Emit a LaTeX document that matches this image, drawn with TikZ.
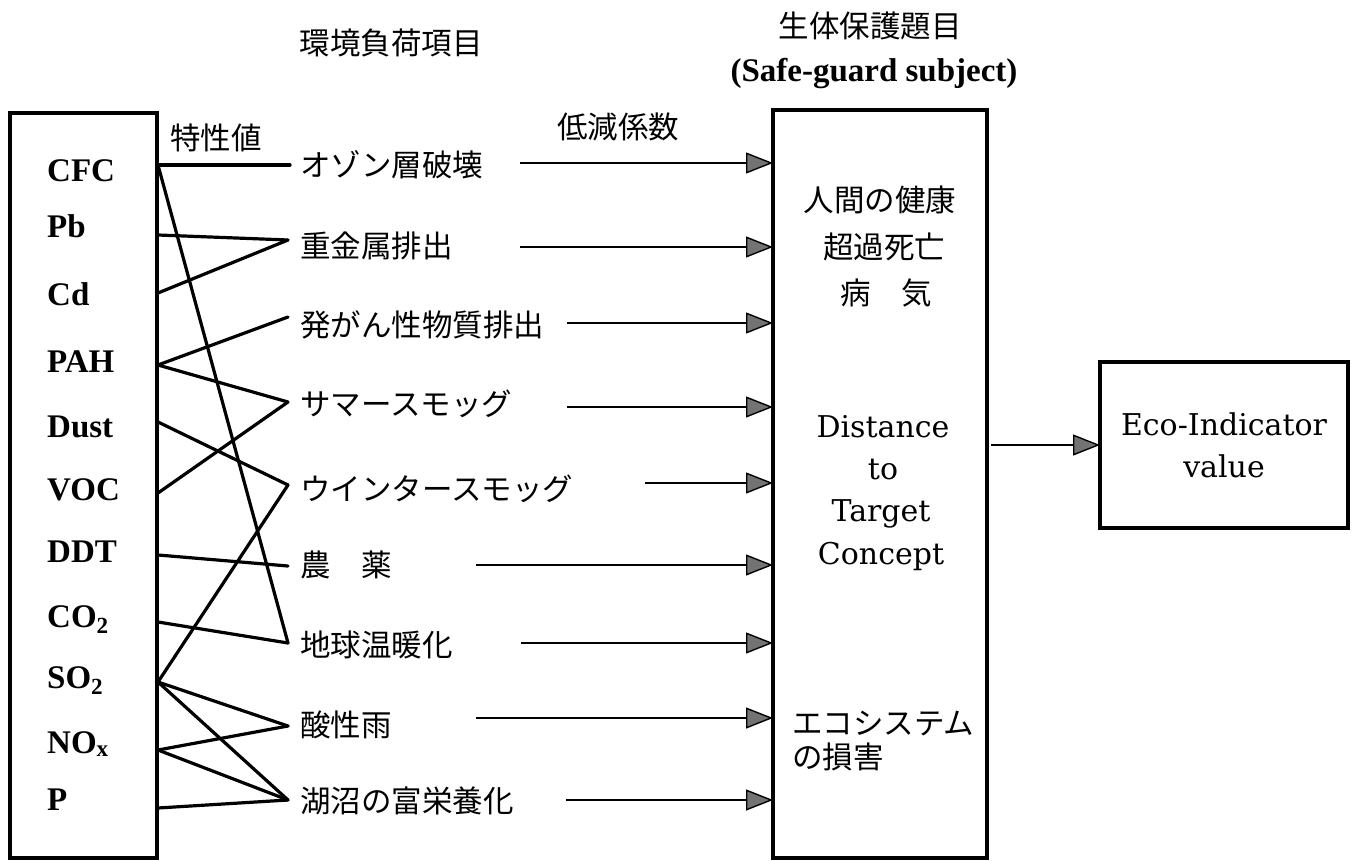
\documentclass[tikz,border=0pt]{standalone}
\usepackage{fontspec}
\usetikzlibrary{arrows.meta}
\setmainfont{Liberation Serif}
\newfontfamily\jpfont{Noto Sans CJK JP}
\newfontfamily\centfont{DejaVu Serif}
\begin{document}
\begin{tikzpicture}[x=1pt,y=-1pt,
  box/.style={draw, line width=3.3pt, inner sep=0pt, outer sep=0pt},
  link/.style={line width=3.2pt, line cap=round, line join=round},
  flow/.style={line width=2.9pt, -{Triangle[length=27pt,width=21pt,fill=black!55,line width=1.4pt]}},
  chem/.style={anchor=base west, inner sep=0pt, font=\fontsize{33pt}{36pt}\selectfont\bfseries},
  imp/.style={anchor=west, inner sep=0pt, font=\jpfont\fontsize{30.5pt}{32pt}\selectfont},
  jtitle/.style={inner sep=0pt, font=\jpfont\fontsize{30.5pt}{32pt}\selectfont},
  ctext/.style={anchor=base, inner sep=0pt, font=\centfont\fontsize{30pt}{34pt}\selectfont},
]
\useasboundingbox (0,0) rectangle (1356,861);

% boxes
\node[box, minimum width=147pt, minimum height=745pt] (left) at (83.5,485.5) {};
\node[box, minimum width=214pt, minimum height=748pt] (mid) at (880,484) {};
\node[box, minimum width=248pt, minimum height=166pt, align=center,
      font=\centfont\fontsize{30pt}{42pt}\selectfont] (eco) at (1224,445) {Eco-Indicator\\value};

% titles
\node[jtitle] (t1) at (391,43) {環境負荷項目};
\node[jtitle] (t2) at (870,26) {生体保護題目};
\node[anchor=base, inner sep=0pt, font=\fontsize{33pt}{36pt}\selectfont\bfseries] (t3) at (874,82) {(Safe-guard subject)};
\node[jtitle] (t4) at (216,138) {特性値};
\node[jtitle] (t5) at (618,127) {低減係数};

% chemical labels
\node[chem] (nCFC) at (47,182) {CFC};
\node[chem] (nPb) at (47,237) {Pb};
\node[chem] (nCd) at (47,305) {Cd};
\node[chem] (nPAH) at (47,372) {PAH};
\node[chem] (nDust) at (47,437) {Dust};
\node[chem] (nVOC) at (47,500) {VOC};
\node[chem] (nDDT) at (47,562) {DDT};
\node[chem] (nCO) at (47,627) {CO\textsubscript{2}};
\node[chem] (nSO) at (47,688) {SO\textsubscript{2}};
\node[chem] (nNO) at (47,753) {NO\textsubscript{x}};
\node[chem] (nP) at (47,810) {P};

% impact labels
\node[imp] (iO) at (300,165) {オゾン層破壊};
\node[imp] (iH) at (300,246) {重金属排出};
\node[imp] (iC) at (300,325) {発がん性物質排出};
\node[imp] (iS) at (300,404) {サマースモッグ};
\node[imp] (iW) at (300,489) {ウインタースモッグ};
\node[imp] (iA) at (300,565) {農　薬};
\node[imp] (iG) at (300,645) {地球温暖化};
\node[imp] (iR) at (300,725) {酸性雨};
\node[imp] (iE) at (300,801) {湖沼の富栄養化};

% middle box texts
\node[jtitle] (h1) at (880,200) {人間の健康};
\node[jtitle] (h2) at (884,247) {超過死亡};
\node[jtitle] (h3) at (886,293) {病　気};
\node[ctext] (d1) at (883,437) {Distance};
\node[ctext] (d2) at (883,479) {to};
\node[ctext] (d3) at (881,521) {Target};
\node[ctext] (d4) at (881,564) {Concept};
\node[jtitle, anchor=west] (e1) at (792,724) {エコシステム};
\node[jtitle, anchor=west] (e2) at (792,757) {の損害};

% connector end points on left box
\coordinate (cCFC) at (158,165);
\coordinate (cPb) at (158,235);
\coordinate (cCd) at (158,293);
\coordinate (cPAH) at (158,365);
\coordinate (cDust) at (158,422);
\coordinate (cVOC) at (158,493);
\coordinate (cDDT) at (158,555);
\coordinate (cCO) at (158,622);
\coordinate (cSO) at (158,682);
\coordinate (cNO) at (158,750);
\coordinate (cP) at (158,808);
% junctions
\coordinate (jO) at (290,165);
\coordinate (jH) at (288,240);
\coordinate (jC) at (288,317);
\coordinate (jS) at (288,402);
\coordinate (jW) at (288,485);
\coordinate (jA) at (288,566);
\coordinate (jG) at (288,643);
\coordinate (jR) at (288,726);
\coordinate (jE) at (288,800);

\draw[link] (cCFC) -- (jO);
\draw[link] (cCFC) -- (jG);
\draw[link] (cPb) -- (jH);
\draw[link] (cCd) -- (jH);
\draw[link] (cPAH) -- (jC);
\draw[link] (cPAH) -- (jS);
\draw[link] (cDust) -- (jW);
\draw[link] (cVOC) -- (jS);
\draw[link] (cDDT) -- (jA);
\draw[link] (cCO) -- (jG);
\draw[link] (cSO) -- (jW);
\draw[link] (cSO) -- (jR);
\draw[link] (cSO) -- (jE);
\draw[link] (cNO) -- (jR);
\draw[link] (cNO) -- (jE);
\draw[link] (cP) -- (jE);

% arrow starts
\coordinate (aO) at (520,163);
\coordinate (aH) at (520,247);
\coordinate (aC) at (567,323);
\coordinate (aS) at (567,407);
\coordinate (aW) at (645,483);
\coordinate (aA) at (476,565);
\coordinate (aG) at (521,643);
\coordinate (aR) at (476,718);
\coordinate (aE) at (566,800);

\foreach \a in {aO,aH,aC,aS,aW,aA,aG,aR,aE}
  \draw[flow] (\a) -- (\a -| mid.west);

\coordinate (aX) at (991,445);
\draw[flow] (aX) -- (eco.west);
\end{tikzpicture}
\end{document}
